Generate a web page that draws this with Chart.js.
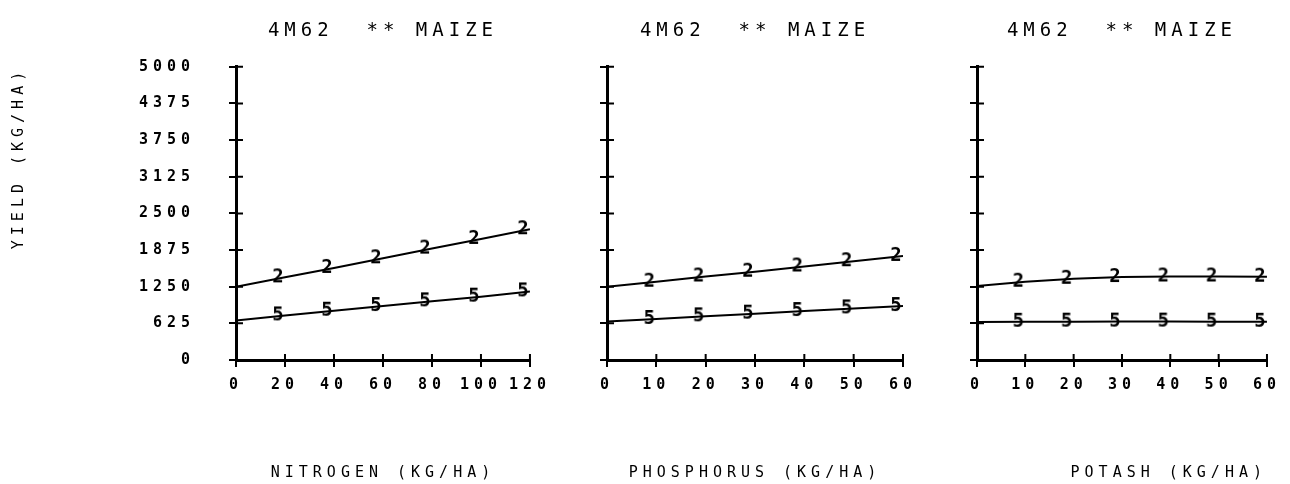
<!DOCTYPE html>
<html>
<head>
<meta charset="utf-8">
<script src="https://cdn.jsdelivr.net/npm/chart.js@4.4.1/dist/chart.umd.min.js"></script>
<style>
  html, body { margin: 0; padding: 0; background: #fff; }
  #wrap { position: relative; width: 1290px; height: 484px; background: #fff; overflow: hidden; }
  canvas { position: absolute; top: 0; }
</style>
</head>
<body>
<div id="wrap">
  <canvas id="chartN" width="560" height="484" style="left:0px"></canvas>
  <canvas id="chartP" width="373" height="484" style="left:560px"></canvas>
  <canvas id="chartK" width="357" height="484" style="left:933px"></canvas>
</div>
<script>
/////////////////////////////////////////////////////////////
// data
/////////////////////////////////////////////////////////////
const titleText = '4M62  ** MAIZE'
const yTitle = 'YIELD (KG/HA)'
const yTicks = [0, 625, 1250, 1875, 2500, 3125, 3750, 4375, 5000]

const nitrogenRates = [0, 20, 40, 60, 80, 100, 120]
const nitrogenYield2 = [1250, 1410, 1570, 1735, 1900, 2065, 2230]
const nitrogenYield5 = [675, 760, 840, 920, 1000, 1080, 1170]

const phosphorusRates = [0, 10, 20, 30, 40, 50, 60]
const phosphorusYield2 = [1250, 1335, 1425, 1505, 1595, 1685, 1775]
const phosphorusYield5 = [655, 700, 745, 790, 835, 880, 920]

const potashRates = [0, 10, 20, 30, 40, 50, 60]
const potashYield2 = [1260, 1335, 1385, 1415, 1425, 1425, 1420]
const potashYield5 = [650, 652, 654, 655, 655, 654, 652]

/////////////////////////////////////////////////////////////
// look
/////////////////////////////////////////////////////////////
const fontFamily = '"DejaVu Sans Mono", monospace'
const ink = '#000'

// plotter style digits used as point markers
function glyph(ch) {
    const c = document.createElement('canvas')
    c.width = 40
    c.height = 28
    const g = c.getContext('2d')
    g.font = 'bold 19px ' + fontFamily
    g.fillStyle = ink
    g.textAlign = 'center'
    g.textBaseline = 'middle'
    g.fillText(ch, 13, 14)  // glyph sits a little left of the point, like the plotter
    return c
}
const mark2 = glyph('2')
const mark5 = glyph('5')

// wide plotter lettering
const spacing = {
    id: 'spacing',
    beforeLayout(chart) { chart.ctx.letterSpacing = '5px' },
    beforeDraw(chart) { chart.ctx.letterSpacing = '5px' }
}

// ticks cross the axes (inner half; outer half is the normal tick mark)
const crossTicks = {
    id: 'crossTicks',
    afterDatasetsDraw(chart) {
        const {ctx, chartArea, scales: {x, y}} = chart
        ctx.save()
        ctx.strokeStyle = ink
        ctx.lineWidth = 2
        ctx.beginPath()
        y.ticks.forEach((t, i) => {
            const py = y.getPixelForTick(i)
            ctx.moveTo(chartArea.left, py)
            ctx.lineTo(chartArea.left + 7, py)
        })
        x.ticks.forEach((t, i) => {
            const px = x.getPixelForTick(i)
            ctx.moveTo(px, chartArea.bottom)
            ctx.lineTo(px, chartArea.bottom - 6)
        })
        ctx.stroke()
        ctx.restore()
    }
}

function series(rates, values, mark) {
    return {
        data: rates.map((r, i) => ({x: r, y: values[i]})),
        borderColor: ink,
        borderWidth: 2,
        tension: 0,
        fill: false,
        pointStyle: mark,
        pointRadius: rates.map((r, i) => i === 0 ? 0 : 6),  // no marker on the axis
    }
}

function makePanel(id, rates, yield2, yield5, xTitle, cfg) {
    return new Chart(document.getElementById(id), {
        type: 'line',
        data: {
            datasets: [series(rates, yield2, mark2), series(rates, yield5, mark5)]
        },
        plugins: [spacing, crossTicks],
        options: {
            responsive: false,
            animation: false,
            devicePixelRatio: 1,
            events: [],
            layout: {padding: {left: 0, top: 0, bottom: 0, right: cfg.rightPad}},
            plugins: {
                legend: {display: false},
                tooltip: {enabled: false},
                title: {
                    display: true,
                    text: titleText,
                    fullSize: false,
                    color: ink,
                    font: {family: fontFamily, size: 19, weight: 'normal'},
                    padding: {top: 20, bottom: 24},
                },
            },
            scales: {
                x: {
                    type: 'linear',
                    min: rates[0],
                    max: rates[rates.length - 1],
                    afterBuildTicks: s => { s.ticks = rates.map(v => ({value: v})) },
                    afterFit: s => { s.height = 124 },
                    grid: {drawOnChartArea: false, color: ink, lineWidth: 2, tickLength: 7},
                    border: {color: ink, width: 3},
                    ticks: {
                        color: ink, padding: 9, maxRotation: 0, autoSkip: false,
                        font: {family: fontFamily, size: 15, weight: 'bold'},
                        callback: v => String(v),
                    },
                    title: {
                        display: true, text: xTitle, align: cfg.xAlign, color: ink,
                        font: {family: fontFamily, size: 15},
                        padding: {top: 0, bottom: 2},
                    },
                },
                y: {
                    min: 0,
                    max: 5000,
                    afterBuildTicks: s => { s.ticks = yTicks.map(v => ({value: v})) },
                    afterFit: s => { s.width = cfg.yWidth },
                    grid: {drawOnChartArea: false, color: ink, lineWidth: 2, tickLength: 7},
                    border: {color: ink, width: 3},
                    ticks: {
                        display: cfg.yLabels, color: ink, padding: 34,
                        font: {family: fontFamily, size: 15, weight: 'bold'},
                        callback: v => String(v),
                    },
                    title: {
                        display: cfg.yLabels, text: yTitle, align: 'end', color: ink,
                        font: {family: fontFamily, size: 15},
                        padding: {top: 10, bottom: 0},
                    },
                },
            },
        },
    })
}

const chartN = makePanel('chartN', nitrogenRates, nitrogenYield2, nitrogenYield5,
    'NITROGEN (KG/HA)', {rightPad: 30, yWidth: 236, yLabels: true, xAlign: 'center'})
const chartP = makePanel('chartP', phosphorusRates, phosphorusYield2, phosphorusYield5,
    'PHOSPHORUS (KG/HA)', {rightPad: 30, yWidth: 47, yLabels: false, xAlign: 'center'})
const chartK = makePanel('chartK', potashRates, potashYield2, potashYield5,
    'POTASH (KG/HA)', {rightPad: 18, yWidth: 44, yLabels: false, xAlign: 'end'})
</script>
</body>
</html>
